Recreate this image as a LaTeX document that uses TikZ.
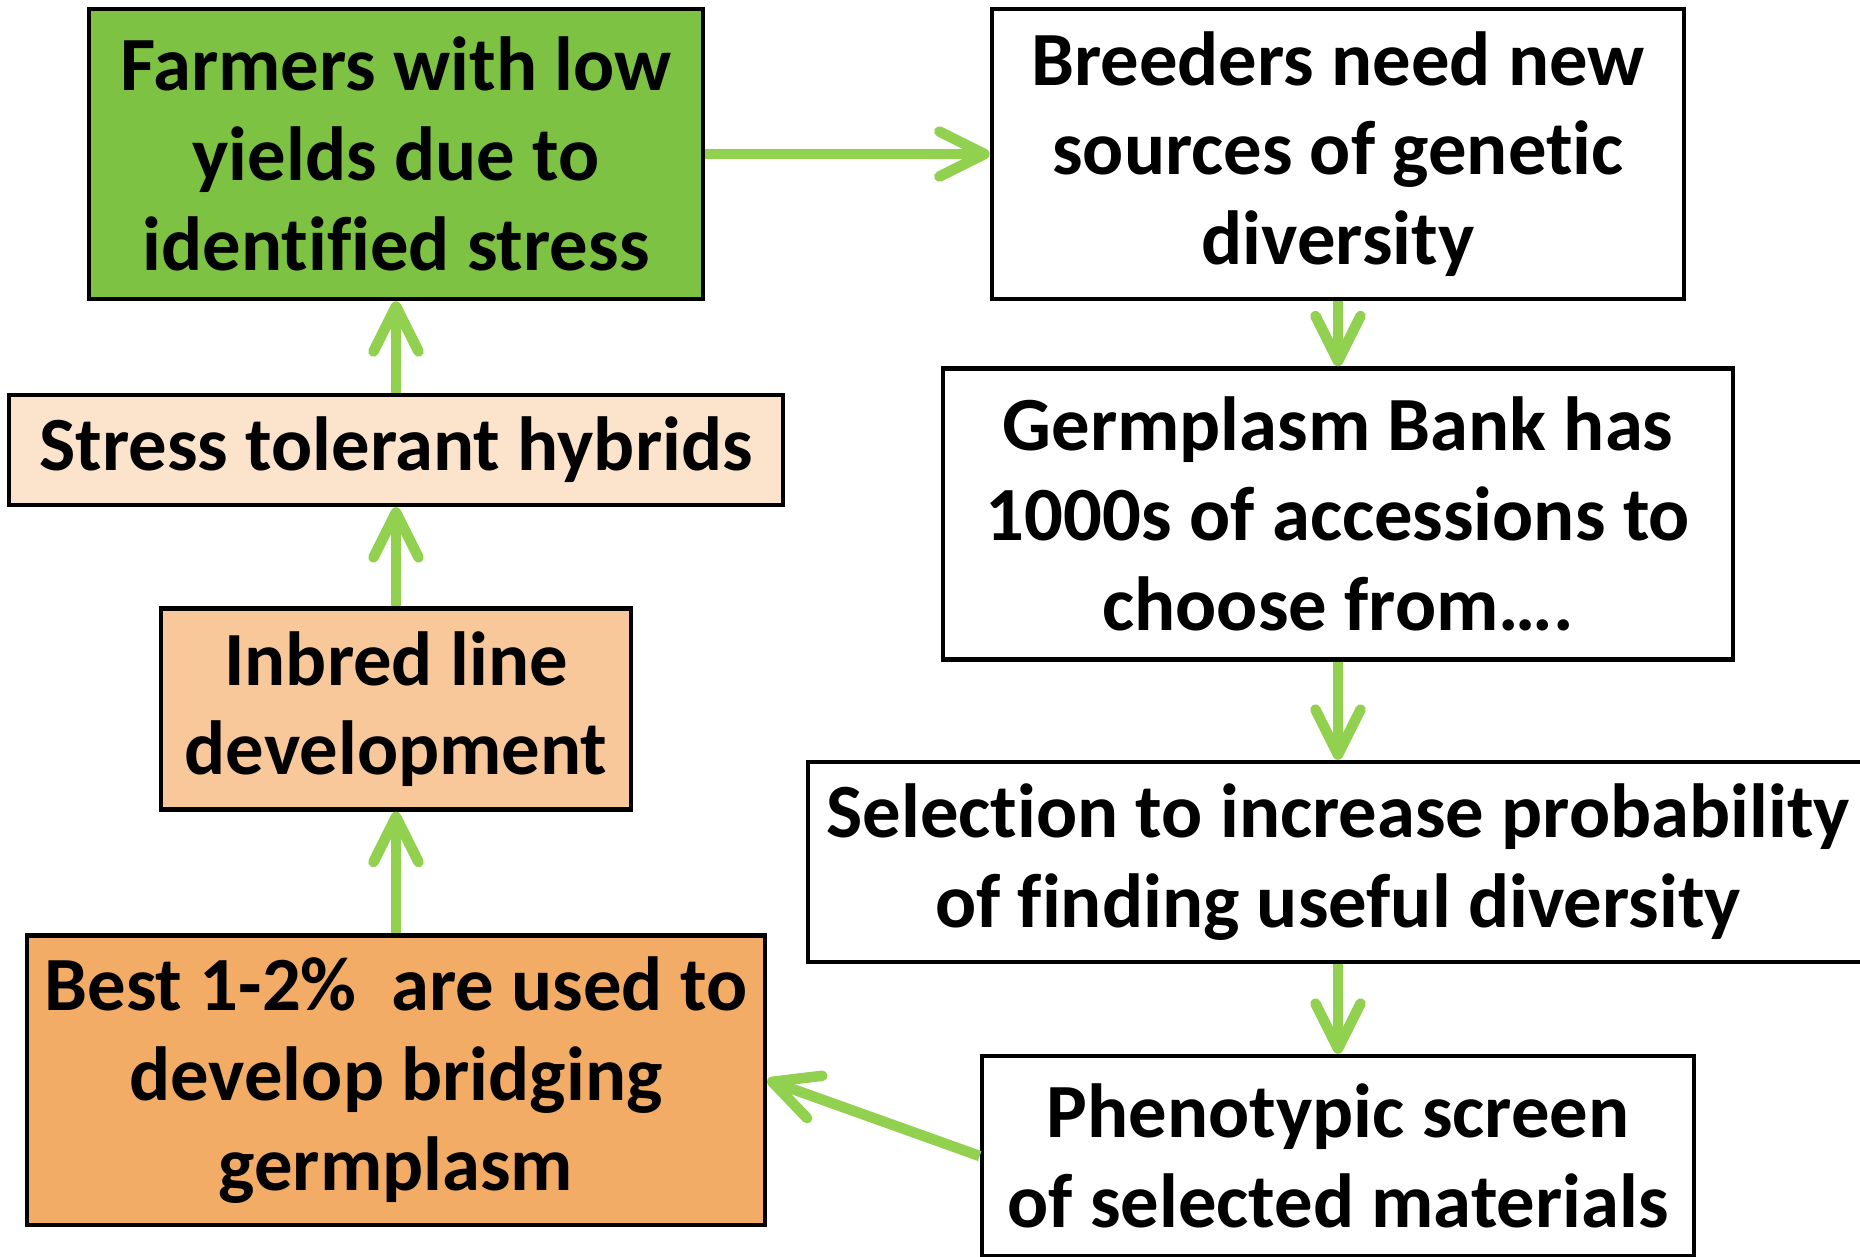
\documentclass[tikz,border=0pt]{standalone}
\usepackage{fontspec}
\setmainfont{Carlito}[Ligatures=NoCommon]
\usetikzlibrary{arrows.meta}

\definecolor{farmgreen}{RGB}{125,194,67}
\definecolor{flowgreen}{RGB}{146,208,80}
\definecolor{peachlight}{RGB}{252,228,204}
\definecolor{peachmid}{RGB}{248,200,154}
\definecolor{peachdark}{RGB}{243,172,102}

\begin{document}
\begin{tikzpicture}[
                x=0.01cm, y=-0.01cm,
                box/.style={draw, line width=1.2pt, rectangle, align=center, fill=white, inner sep=0pt, font=\bfseries\fontsize{21.8}{25.5}\selectfont},
                flow/.style={-{Straight Barb[length=0.45cm, width=0.45cm, round]}, line width=3pt, flowgreen}
            ]
            \useasboundingbox (0,0) rectangle (1860,1256);
            % Nodes (left column goes up, right column goes down)
            \node[box, fill=farmgreen, minimum width=6.14cm, minimum height=2.9cm] (farmers) at (396,154) {Farmers with low\\yields due to\\identified stress};
            \node[box, minimum width=6.92cm, minimum height=2.9cm] (breeders) at (1338,154) {Breeders need new\\sources of genetic\\diversity};
            \node[box, fill=peachlight, minimum width=7.74cm, minimum height=1.1cm] (hybrids) at (396,450) {Stress tolerant hybrids};
            \node[box, minimum width=7.9cm, minimum height=2.91cm] (bank) at (1338,514) {Germplasm Bank has\\1000s of accessions to\\choose from….};
            \node[box, fill=peachmid, minimum width=4.7cm, minimum height=2.01cm] (inbred) at (396,709) {Inbred line\\development};
            \node[box, minimum width=10.6cm, minimum height=2.0cm] (selection) at (1338,862) {Selection to increase probability\\of finding useful diversity};
            \node[box, fill=peachdark, minimum width=7.38cm, minimum height=2.89cm] (bridging) at (396,1080) {Best 1-2\%~ are used to\\develop bridging\\germplasm};
            \node[box, minimum width=7.12cm, minimum height=2.0cm] (screen) at (1338,1156) {Phenotypic screen\\of selected materials};

            % Edges
            \draw[flow] (farmers) -- (breeders);
            \draw[flow] (breeders) -- (bank);
            \draw[flow] (bank) -- (selection);
            \draw[flow] (selection) -- (screen);
            \draw[flow] (screen.west) -- (bridging.east);
            \draw[flow] (bridging) -- (inbred);
            \draw[flow] (inbred) -- (hybrids);
            \draw[flow] (hybrids) -- (farmers);
\end{tikzpicture}
\end{document}
